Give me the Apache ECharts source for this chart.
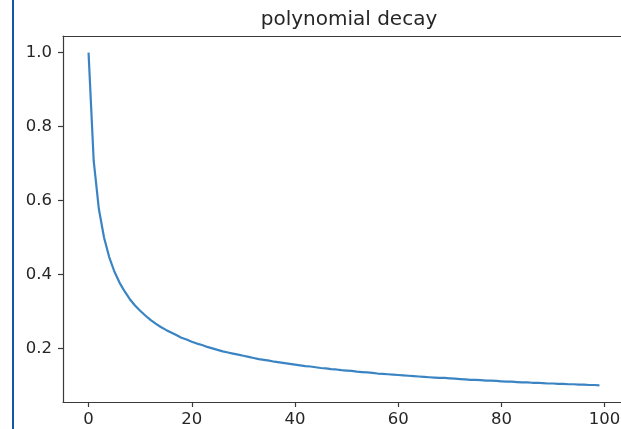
<!DOCTYPE html>
<html>
<head>
<meta charset="utf-8">
<script src="https://cdn.jsdelivr.net/npm/echarts@6/dist/echarts.min.js"></script>
<style>html,body{margin:0;padding:0;background:#fff}#c{width:621px;height:429px}</style>
</head>
<body>
<div id="c"></div>
<script>
const titleText = 'polynomial decay';
const xTicks = [0, 20, 40, 60, 80, 100];
const yTicks = [0.2, 0.4, 0.6, 0.8, 1.0];
const steps = [];
for (let i = 0; i < 100; i++) steps.push(i);
const lrValues = [
 1.000,0.707,0.577,0.500,0.447,0.408,0.378,0.354,0.333,0.316,
 0.302,0.289,0.277,0.267,0.258,0.250,0.243,0.236,0.229,0.224,
 0.218,0.213,0.209,0.204,0.200,0.196,0.192,0.189,0.186,0.183,
 0.180,0.177,0.174,0.171,0.169,0.167,0.164,0.162,0.160,0.158,
 0.156,0.154,0.152,0.151,0.149,0.147,0.146,0.144,0.143,0.141,
 0.140,0.139,0.137,0.136,0.135,0.134,0.132,0.131,0.130,0.129,
 0.128,0.127,0.126,0.125,0.124,0.123,0.122,0.121,0.120,0.120,
 0.119,0.118,0.117,0.116,0.115,0.115,0.114,0.113,0.113,0.112,
 0.111,0.110,0.110,0.109,0.108,0.108,0.107,0.107,0.106,0.105,
 0.105,0.104,0.104,0.103,0.103,0.102,0.102,0.101,0.101,0.100
];

const chart = echarts.init(document.getElementById('c'), null, {renderer: 'canvas'});
const labelStyle = {color: '#262626', fontSize: 16.5, fontFamily: 'DejaVu Sans'};
const spine = {color: '#3a3a3a', width: 1.2};
chart.setOption({
  animation: false,
  backgroundColor: '#fff',
  title: {
    text: titleText, left: 344, top: 5, textAlign: 'center',
    textStyle: {color: '#262626', fontSize: 20, fontWeight: 'normal', fontFamily: 'DejaVu Sans'}
  },
  grid: {
    left: 63, top: 36, width: 562, height: 366,
    containLabel: false, outerBoundsMode: 'none', show: false
  },
  xAxis: [{
    type: 'value', min: -4.95, max: 103.95, position: 'bottom',
    splitLine: {show: false},
    axisLine: {show: true, onZero: false, lineStyle: spine},
    axisTick: {show: true, length: 5, customValues: xTicks, lineStyle: {color: '#3a3a3a', width: 1.2}},
    axisLabel: Object.assign({margin: 9, customValues: xTicks, showMinLabel: true, showMaxLabel: true}, labelStyle)
  }, {
    type: 'value', min: -4.95, max: 103.95, position: 'top',
    splitLine: {show: false},
    axisLine: {show: true, onZero: false, lineStyle: spine},
    axisTick: {show: false}, axisLabel: {show: false}
  }],
  yAxis: {
    type: 'value', min: 0.055, max: 1.045,
    splitLine: {show: false},
    axisLine: {show: true, onZero: false, lineStyle: spine},
    axisTick: {show: true, length: 5, customValues: yTicks, lineStyle: {color: '#3a3a3a', width: 1.2}},
    axisLabel: Object.assign({margin: 11, customValues: yTicks, formatter: v => v.toFixed(1)}, labelStyle)
  },
  graphic: [{
    type: 'rect', shape: {x: 12, y: 0, width: 2, height: 429},
    style: {fill: '#1556a6'}, silent: true
  }],
  series: [{
    type: 'line',
    xAxisIndex: 0,
    data: steps.map((s, i) => [s, lrValues[i]]),
    showSymbol: false,
    smooth: false,
    lineStyle: {color: '#3b84c4', width: 2.2},
    clip: true
  }]
});
</script>
</body>
</html>
